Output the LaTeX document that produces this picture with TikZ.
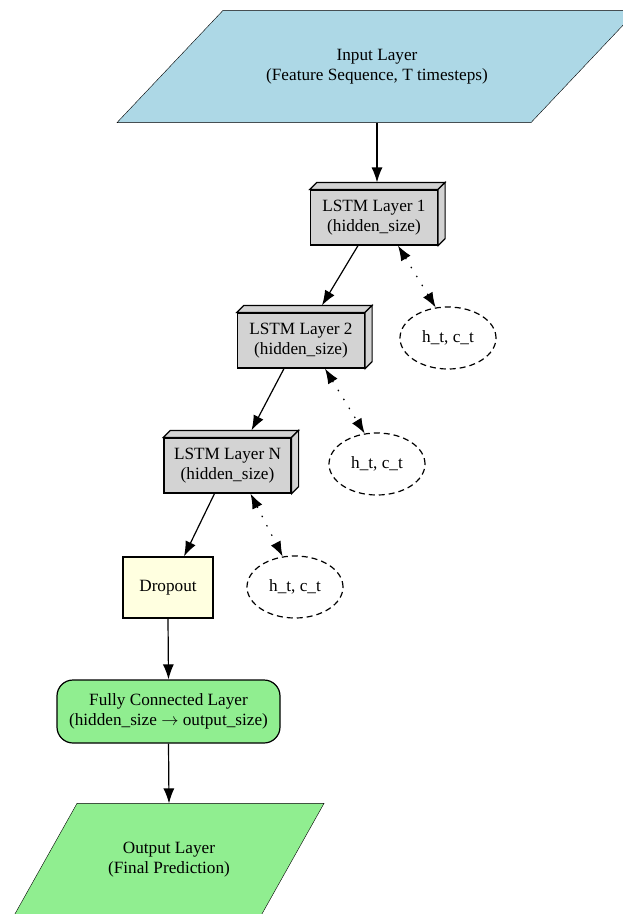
\documentclass[tikz,border=0pt]{standalone}
\usepackage{fontspec}
\setmainfont{Liberation Serif}
\usepackage{tikz}
\usetikzlibrary{shapes.geometric}
\usetikzlibrary{calc,backgrounds,arrows.meta}
\definecolor{inblue}{HTML}{ADD8E6}
\definecolor{lstmgray}{HTML}{D3D3D3}
\definecolor{dropyellow}{HTML}{FFFFE0}
\definecolor{fcgreen}{HTML}{90EE90}
\tikzstyle{net}=[
  >={Latex[length=15pt,width=11pt]},x=1pt,y=-1pt,line width=1.2pt,
  font=\fontsize{17.2}{20.5}\selectfont
]
\tikzstyle{label}=[
  align=center,inner sep=0pt,minimum width=200pt,minimum height=111pt
]
\tikzstyle{lstm}=[
  draw,fill=lstmgray,align=center,inner sep=0pt,minimum width=127pt,minimum height=55pt
]
\tikzstyle{state}=[
  draw,ellipse,dash pattern=on 6pt off 4pt,inner sep=0pt,minimum width=96pt,minimum height=62pt
]
\tikzstyle{dropnode}=[
  draw,fill=dropyellow,inner sep=0pt,minimum width=90pt,minimum height=61pt
]
\tikzstyle{fcnode}=[
  draw,fill=fcgreen,rounded corners=16pt,align=center,inner sep=0pt,minimum width=223pt,minimum height=63pt
]
\tikzstyle{flow}=[
  ->
]
\tikzstyle{stateedge}=[
  <->,dash pattern=on 1.5pt off 9pt
]

\begin{document}
\begin{tikzpicture}[net]
    \def\dep{7}
    \useasboundingbox (0,0) rectangle (623,914);
    \clip (0,0) rectangle (623,914);
    \node (in) at (377,66.5) [label] {Input Layer\\(Feature Sequence, T timesteps)};
    \node (l1) at (374,217.5) [lstm] {LSTM Layer 1\\(hidden\_size)};
    \node (l2) at (301,340.5) [lstm] {LSTM Layer 2\\(hidden\_size)};
    \node (lN) at (227.5,465.5) [lstm] {LSTM Layer N\\(hidden\_size)};
    \node (h1) at (448,338) [state] {h\_t, c\_t};
    \node (h2) at (377,464) [state] {h\_t, c\_t};
    \node (hN) at (295,587) [state] {h\_t, c\_t};
    \node (drop) at (168,587.5) [dropnode] {Dropout};
    \node (fc) at (168.5,711.5) [fcnode] {Fully Connected Layer\\(hidden\_size $\rightarrow$ output\_size)};
    \node (out) at (169,859.5) [label] {Output Layer\\(Final Prediction)};
    \begin{scope}[on background layer]
      \draw [fill=inblue] ($(in.south)+(-260,0)$) -- ($(in.south)+(154,0)$)
        -- ($(in.north)+(260,0)$) -- ($(in.north)+(-154,0)$) -- cycle;
      \draw [fill=fcgreen] ($(out.south)+(-155,0)$) -- ($(out.south)+(92,0)$)
        -- ($(out.north)+(155,0)$) -- ($(out.north)+(-92,0)$) -- cycle;
    \end{scope}
    % depth of the lstm boxes
    \foreach \n in {l1,l2,lN} {
      \draw [fill=lstmgray] (\n.north west) -- ++(\dep,-\dep) -- ($(\n.north east)+(\dep,-\dep)$) -- (\n.north east) -- cycle;
      \draw [fill=lstmgray] (\n.north east) -- ++(\dep,-\dep) -- ($(\n.south east)+(\dep,-\dep)$) -- (\n.south east) -- cycle;
    }
    \draw [flow] (in.south) -- ($(l1.north)+(3,-\dep)$);
    \draw [flow] ($(l1.south)+(-16,0)$) -- ($(l2.north)+(21,-\dep)$);
    \draw [flow] ($(l2.south)+(-17,0)$) -- ($(lN.north)+(24,-\dep)$);
    \draw [flow] ($(lN.south)+(-13,0)$) -- ($(drop.north)+(16,0)$);
    \draw [flow] (drop.south) -- (fc.north);
    \draw [flow] (fc.south) -- (out.north);
    \draw [stateedge] ($(l1.south)+(24,0)$) -- (h1.112);
    \draw [stateedge] ($(l2.south)+(24,0)$) -- (h2.112);
    \draw [stateedge] ($(lN.south)+(23,0)$) -- (hN.112);
\end{tikzpicture}
\end{document}
